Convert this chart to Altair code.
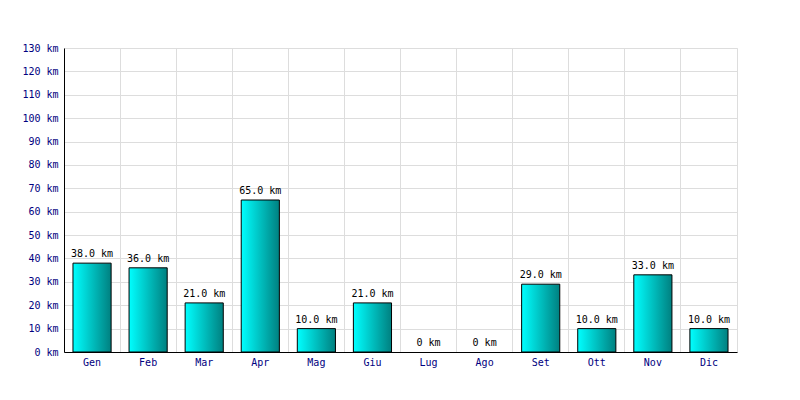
import altair as alt
import pandas as pd

months = ["Gen", "Feb", "Mar", "Apr", "Mag", "Giu", "Lug", "Ago", "Set", "Ott", "Nov", "Dic"]
km = [38, 36, 21, 65, 10, 21, 0, 0, 29, 10, 33, 10]
labels = [("0 km" if v == 0 else f"{v:.1f} km") for v in km]
y_ticks = list(range(0, 140, 10))

df = pd.DataFrame({"month": months, "km": km, "label": labels})

FONT = "DejaVu Sans Mono"
FS = 10

x_enc = alt.X(
    "month:N", sort=months, title=None,
    scale=alt.Scale(paddingInner=0, paddingOuter=0),
    axis=alt.Axis(
        labelAngle=0, labelColor="#000080", labelFont=FONT, labelFontSize=FS,
        domainColor="#000000", ticks=False, labelPadding=5,
        grid=True, gridColor="#dddddd", bandPosition=0,
    ),
)
y_enc = alt.Y(
    "km:Q", title=None,
    scale=alt.Scale(domain=[0, 130], nice=False),
    axis=alt.Axis(
        values=y_ticks, labelExpr="datum.value + ' km'", labelColor="#000080",
        labelFont=FONT, labelFontSize=FS, domainColor="#000000",
        ticks=False, labelPadding=6, gridColor="#dddddd", labelOverlap=False,
    ),
)

grad = alt.Gradient(
    gradient="linear",
    stops=[alt.GradientStop(color="#00ffff", offset=0),
           alt.GradientStop(color="#008080", offset=1)],
    x1=0, x2=1, y1=0, y2=0,
)

bars = alt.Chart(df).transform_filter("datum.km > 0").mark_bar(
    color=grad, stroke="#000000", strokeWidth=1, width=alt.RelativeBandSize(0.68)
).encode(x=x_enc, y=y_enc)

text = alt.Chart(df).mark_text(
    font=FONT, fontSize=FS, color="#000000", baseline="bottom", dy=-4
).encode(x=x_enc, y=y_enc, text="label:N")

chart = (bars + text).properties(
    width=673, height=304,
    autosize=alt.AutoSizeParams(type="none"),
    padding={"left": 56, "top": 40, "right": 55, "bottom": 40},
).configure_view(stroke="#dddddd", strokeWidth=1)

chart.save("out.html", embed_options={"renderer": "svg", "actions": False})
